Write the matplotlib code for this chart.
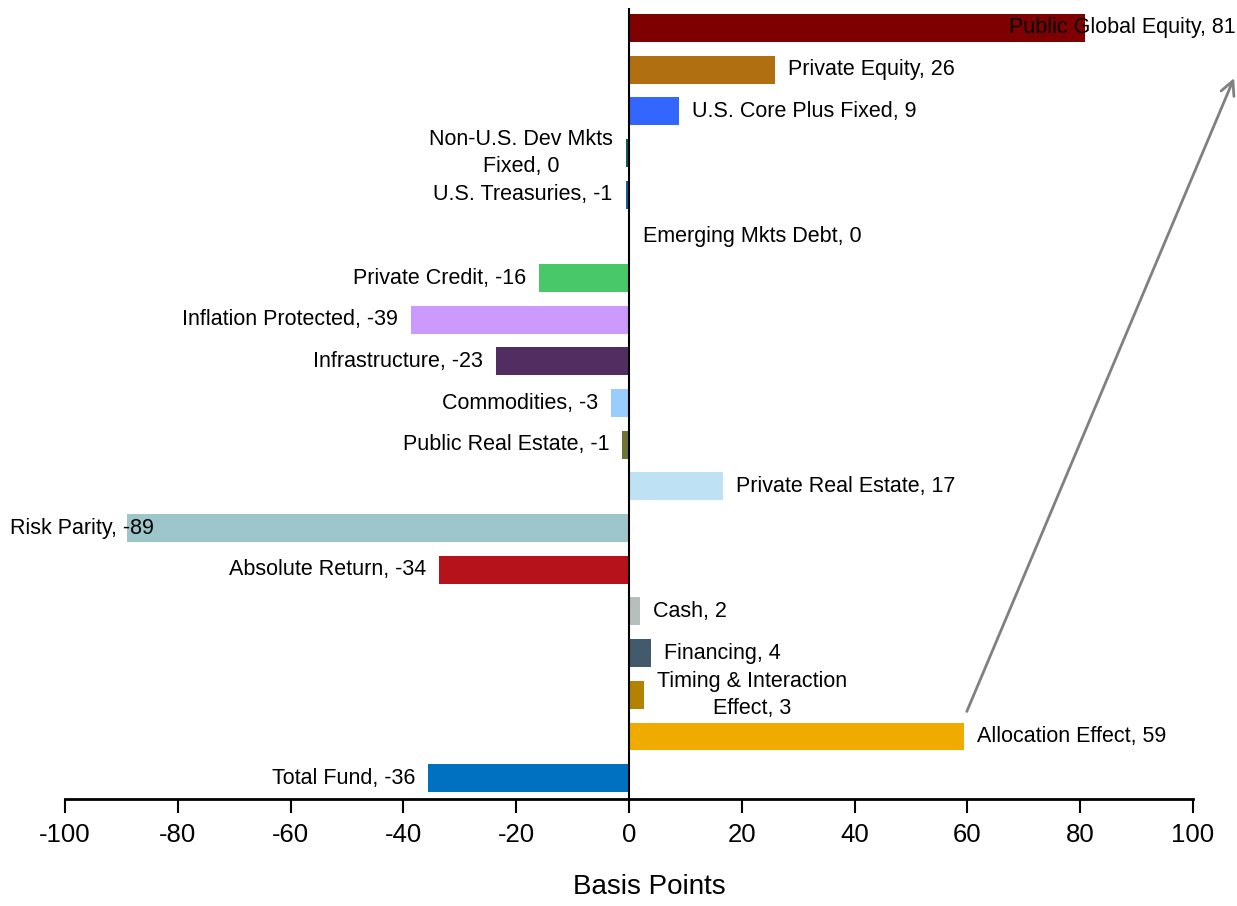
import numpy as np
import matplotlib
matplotlib.use('Agg')
from matplotlib import pyplot as plt
from matplotlib.transforms import blended_transform_factory

categories = ['Public Global Equity', 'Private Equity', 'U.S. Core Plus Fixed',
              'Non-U.S. Dev Mkts\nFixed', 'U.S. Treasuries', 'Emerging Mkts Debt',
              'Private Credit', 'Inflation Protected', 'Infrastructure', 'Commodities',
              'Public Real Estate', 'Private Real Estate', 'Risk Parity',
              'Absolute Return', 'Cash', 'Financing', 'Timing & Interaction\nEffect',
              'Allocation Effect', 'Total Fund']
values = [80.9, 25.9, 8.9, -0.5, -0.6, 0.2, -16.0, -38.7, -23.6, -3.2,
          -1.2, 16.7, -89.0, -33.7, 1.9, 3.9, 2.7, 59.4, -35.6]
shown = [81, 26, 9, 0, -1, 0, -16, -39, -23, -3, -1, 17, -89, -34, 2, 4, 3, 59, -36]
colors = ['#7F0000', '#B07012', '#3366FF', '#0B5C5C', '#10609E', '#E0A040',
          '#48C868', '#CC99FF', '#512D62', '#99CCFF', '#6F7535', '#BEE2F4',
          '#9DC6CB', '#B5121B', '#B6BFBB', '#425A6C', '#B58100', '#F0AB00', '#0070C0']

# labels that the original pushed inside the figure edge
edge_right = ['Public Global Equity']
edge_left = ['Risk Parity']

plt.rcParams['font.family'] = ['Liberation Sans', 'DejaVu Sans']
plt.rcParams['axes.unicode_minus'] = False

fig = plt.figure(figsize=(12.37, 9.06), dpi=100)
ax = fig.add_axes([0.0525, 0.1181, 0.9119, 0.8731])

y_pos = np.arange(len(categories))
bars = ax.barh(y_pos, values, height=0.67, color=colors, align='center')

edge_tr = blended_transform_factory(fig.transFigure, ax.transData)
pad = 2.3
for i, (cat, v, s) in enumerate(zip(categories, values, shown)):
    txt = '{}, {}'.format(cat, s)
    if cat in edge_right:
        ax.text(0.999, i, txt, transform=edge_tr, ha='right', va='center',
                fontsize=15.5, clip_on=False)
    elif cat in edge_left:
        ax.text(0.008, i, txt, transform=edge_tr, ha='left', va='center',
                fontsize=15.5, clip_on=False)
    elif v >= 0:
        ax.text(v + pad, i, txt, ha='left', va='center', fontsize=15.5,
                multialignment='center', linespacing=1.35)
    else:
        ax.text(v - pad, i, txt, ha='right', va='center', fontsize=15.5,
                multialignment='center', linespacing=1.35)

# grey arrow from the allocation effect up to the top right
ax.annotate('', xy=(107.3, 1.2), xytext=(59.9, 16.4),
            arrowprops=dict(arrowstyle='->', color='#808080', lw=2,
                            mutation_scale=25, shrinkA=0, shrinkB=0),
            annotation_clip=False)

ax.set_xlim(-100, 100)
ax.set_ylim(len(categories) - 0.5, -0.48)
ax.set_xticks(np.arange(-100, 101, 20))
ax.tick_params(axis='x', labelsize=18.5, length=10, width=1.5, pad=7)
ax.set_yticks([])

for side in ['top', 'right', 'left']:
    ax.spines[side].set_visible(False)
ax.spines['bottom'].set_linewidth(2)
ax.axvline(0, color='black', lw=1.5, zorder=3)

ax.set_xlabel('Basis Points', fontsize=20, labelpad=22)
ax.xaxis.set_label_coords(0.518, -0.095)

plt.savefig('out.png', dpi=100)
